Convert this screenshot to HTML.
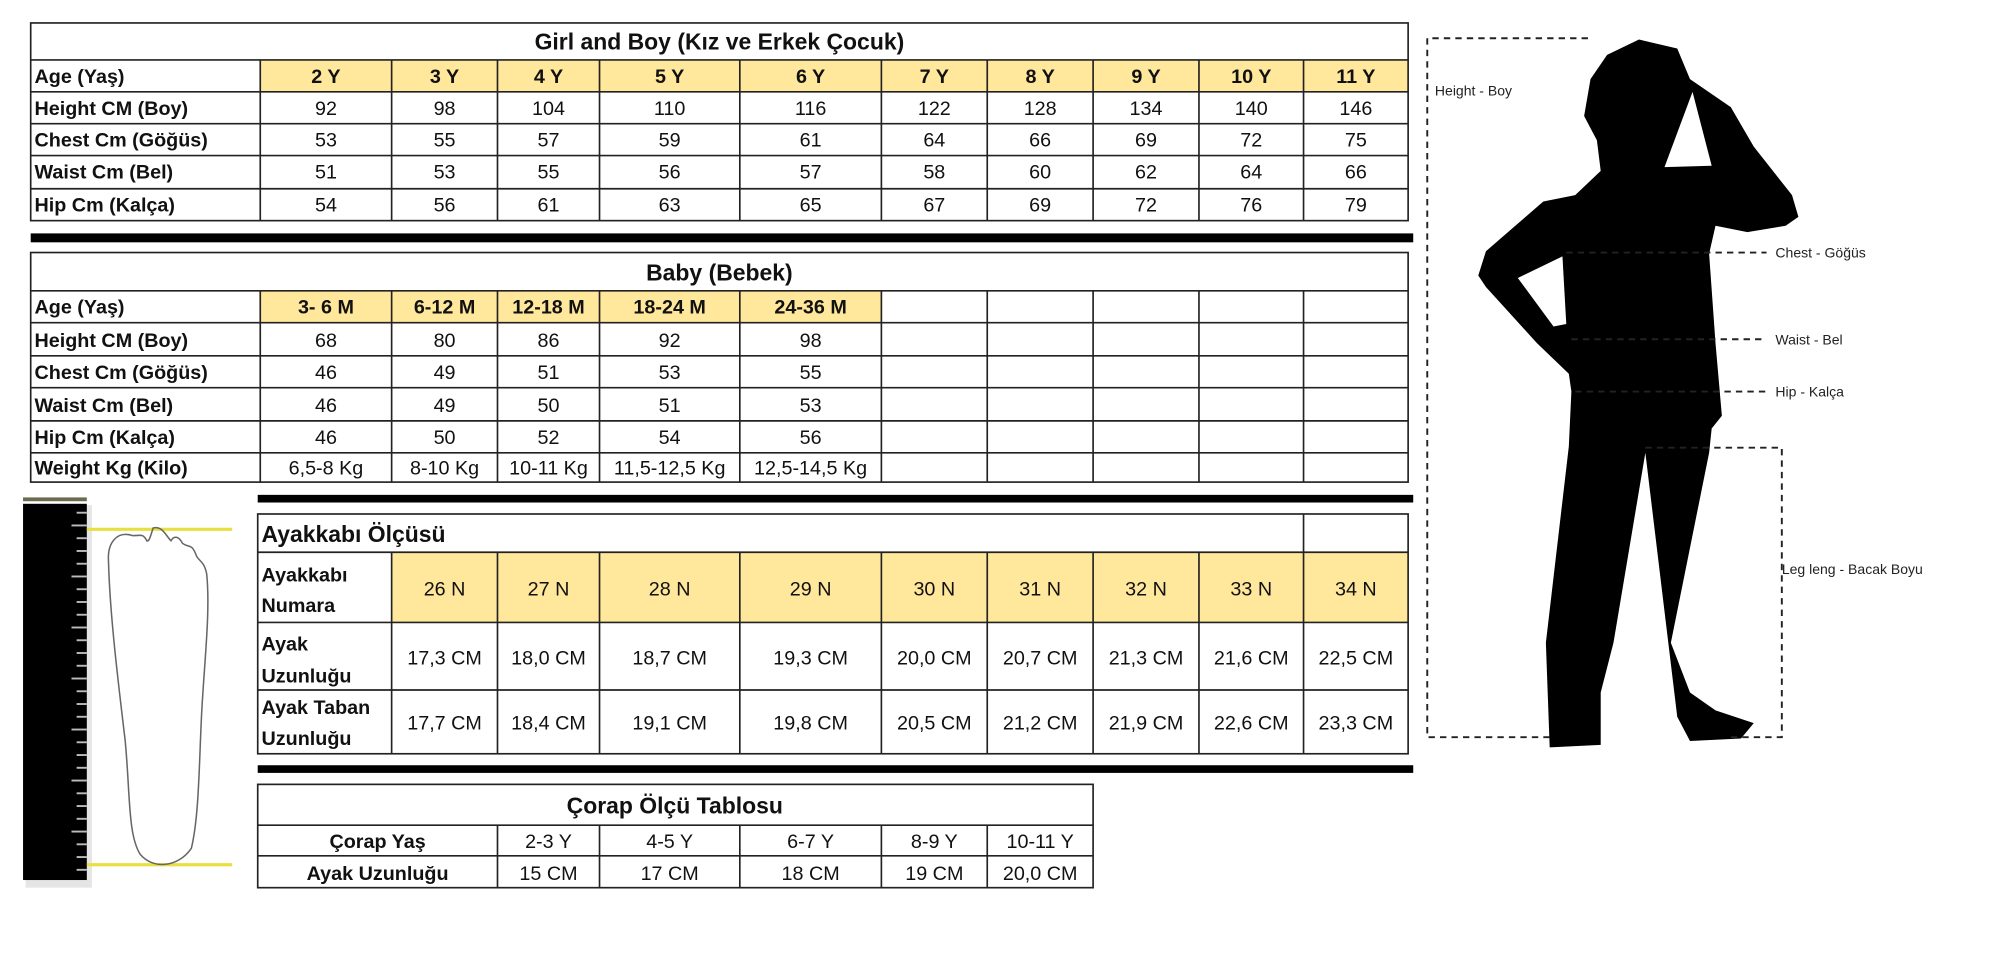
<!DOCTYPE html>
<html><head><meta charset="utf-8"><style>
html,body{margin:0;padding:0;background:#fff;width:2000px;height:954px;overflow:hidden}
svg{display:block}
text{font-family:"Liberation Sans Narrow","Liberation Sans",sans-serif;fill:#111}
.c{text-anchor:middle;font-size:15.5px}
.b{font-weight:bold}
.l{font-size:15.5px;font-weight:bold}
.t{font-size:18px;font-weight:bold;text-anchor:middle}
.g line,.g rect{stroke:#222;stroke-width:1.3;fill:none}
.s{font-size:11px;fill:#222}
</style></head><body>
<svg width="2000" height="954" viewBox="0 0 1568 748" xmlns="http://www.w3.org/2000/svg">
<rect width="1568" height="748" fill="#fff"/>

<!-- TOP TABLE -->
<rect x="204" y="47" width="900" height="25" fill="#FFE79B"/>
<g class="g">
<rect x="24" y="18" width="1080" height="155"/>
<line x1="24" y1="47" x2="1104" y2="47"/><line x1="24" y1="72" x2="1104" y2="72"/><line x1="24" y1="97" x2="1104" y2="97"/><line x1="24" y1="122" x2="1104" y2="122"/><line x1="24" y1="148" x2="1104" y2="148"/>
<line x1="204" y1="47" x2="204" y2="173"/><line x1="307" y1="47" x2="307" y2="173"/><line x1="390" y1="47" x2="390" y2="173"/><line x1="470" y1="47" x2="470" y2="173"/><line x1="580" y1="47" x2="580" y2="173"/><line x1="691" y1="47" x2="691" y2="173"/><line x1="774" y1="47" x2="774" y2="173"/><line x1="857" y1="47" x2="857" y2="173"/><line x1="940" y1="47" x2="940" y2="173"/><line x1="1022" y1="47" x2="1022" y2="173"/>
</g>
<text class="t" x="564" y="39">Girl and Boy (Kız ve Erkek Çocuk)</text>
<text class="l" x="27" y="65">Age (Yaş)</text>
<text class="l" x="27" y="90">Height CM (Boy)</text>
<text class="l" x="27" y="115">Chest Cm (Göğüs)</text>
<text class="l" x="27" y="140">Waist Cm (Bel)</text>
<text class="l" x="27" y="166">Hip Cm (Kalça)</text>
<text class="c b" x="255.5" y="65">2 Y</text><text class="c b" x="348.5" y="65">3 Y</text><text class="c b" x="430" y="65">4 Y</text><text class="c b" x="525" y="65">5 Y</text><text class="c b" x="635.5" y="65">6 Y</text><text class="c b" x="732.5" y="65">7 Y</text><text class="c b" x="815.5" y="65">8 Y</text><text class="c b" x="898.5" y="65">9 Y</text><text class="c b" x="981" y="65">10 Y</text><text class="c b" x="1063" y="65">11 Y</text>
<text class="c" x="255.5" y="90">92</text><text class="c" x="348.5" y="90">98</text><text class="c" x="430" y="90">104</text><text class="c" x="525" y="90">110</text><text class="c" x="635.5" y="90">116</text><text class="c" x="732.5" y="90">122</text><text class="c" x="815.5" y="90">128</text><text class="c" x="898.5" y="90">134</text><text class="c" x="981" y="90">140</text><text class="c" x="1063" y="90">146</text>
<text class="c" x="255.5" y="115">53</text><text class="c" x="348.5" y="115">55</text><text class="c" x="430" y="115">57</text><text class="c" x="525" y="115">59</text><text class="c" x="635.5" y="115">61</text><text class="c" x="732.5" y="115">64</text><text class="c" x="815.5" y="115">66</text><text class="c" x="898.5" y="115">69</text><text class="c" x="981" y="115">72</text><text class="c" x="1063" y="115">75</text>
<text class="c" x="255.5" y="140">51</text><text class="c" x="348.5" y="140">53</text><text class="c" x="430" y="140">55</text><text class="c" x="525" y="140">56</text><text class="c" x="635.5" y="140">57</text><text class="c" x="732.5" y="140">58</text><text class="c" x="815.5" y="140">60</text><text class="c" x="898.5" y="140">62</text><text class="c" x="981" y="140">64</text><text class="c" x="1063" y="140">66</text>
<text class="c" x="255.5" y="166">54</text><text class="c" x="348.5" y="166">56</text><text class="c" x="430" y="166">61</text><text class="c" x="525" y="166">63</text><text class="c" x="635.5" y="166">65</text><text class="c" x="732.5" y="166">67</text><text class="c" x="815.5" y="166">69</text><text class="c" x="898.5" y="166">72</text><text class="c" x="981" y="166">76</text><text class="c" x="1063" y="166">79</text>

<rect x="24" y="183" width="1084" height="7" fill="#000"/>

<!-- BABY TABLE -->
<rect x="204" y="228" width="487" height="25" fill="#FFE79B"/>
<g class="g">
<rect x="24" y="198" width="1080" height="180"/>
<line x1="24" y1="228" x2="1104" y2="228"/><line x1="24" y1="253" x2="1104" y2="253"/><line x1="24" y1="279" x2="1104" y2="279"/><line x1="24" y1="304" x2="1104" y2="304"/><line x1="24" y1="330" x2="1104" y2="330"/><line x1="24" y1="355" x2="1104" y2="355"/>
<line x1="204" y1="228" x2="204" y2="378"/><line x1="307" y1="228" x2="307" y2="378"/><line x1="390" y1="228" x2="390" y2="378"/><line x1="470" y1="228" x2="470" y2="378"/><line x1="580" y1="228" x2="580" y2="378"/><line x1="691" y1="228" x2="691" y2="378"/><line x1="774" y1="228" x2="774" y2="378"/><line x1="857" y1="228" x2="857" y2="378"/><line x1="940" y1="228" x2="940" y2="378"/><line x1="1022" y1="228" x2="1022" y2="378"/>
</g>
<text class="t" x="564" y="220">Baby (Bebek)</text>
<text class="l" x="27" y="246">Age (Yaş)</text>
<text class="l" x="27" y="272">Height CM (Boy)</text>
<text class="l" x="27" y="297">Chest Cm (Göğüs)</text>
<text class="l" x="27" y="323">Waist Cm (Bel)</text>
<text class="l" x="27" y="348">Hip Cm (Kalça)</text>
<text class="l" x="27" y="372">Weight Kg (Kilo)</text>
<text class="c b" x="255.5" y="246">3- 6 M</text><text class="c b" x="348.5" y="246">6-12 M</text><text class="c b" x="430" y="246">12-18 M</text><text class="c b" x="525" y="246">18-24 M</text><text class="c b" x="635.5" y="246">24-36 M</text>
<text class="c" x="255.5" y="272">68</text><text class="c" x="348.5" y="272">80</text><text class="c" x="430" y="272">86</text><text class="c" x="525" y="272">92</text><text class="c" x="635.5" y="272">98</text>
<text class="c" x="255.5" y="297">46</text><text class="c" x="348.5" y="297">49</text><text class="c" x="430" y="297">51</text><text class="c" x="525" y="297">53</text><text class="c" x="635.5" y="297">55</text>
<text class="c" x="255.5" y="323">46</text><text class="c" x="348.5" y="323">49</text><text class="c" x="430" y="323">50</text><text class="c" x="525" y="323">51</text><text class="c" x="635.5" y="323">53</text>
<text class="c" x="255.5" y="348">46</text><text class="c" x="348.5" y="348">50</text><text class="c" x="430" y="348">52</text><text class="c" x="525" y="348">54</text><text class="c" x="635.5" y="348">56</text>
<text class="c" x="255.5" y="372">6,5-8 Kg</text><text class="c" x="348.5" y="372">8-10 Kg</text><text class="c" x="430" y="372">10-11 Kg</text><text class="c" x="525" y="372">11,5-12,5 Kg</text><text class="c" x="635.5" y="372">12,5-14,5 Kg</text>

<rect x="202" y="388" width="906" height="6" fill="#000"/>

<!-- SHOE TABLE -->
<rect x="307" y="433" width="797" height="55" fill="#FFE79B"/>
<g class="g">
<rect x="202" y="403" width="902" height="188"/>
<line x1="202" y1="433" x2="1104" y2="433"/><line x1="202" y1="488" x2="1104" y2="488"/><line x1="202" y1="541" x2="1104" y2="541"/>
<line x1="1022" y1="403" x2="1022" y2="591"/>
<line x1="307" y1="433" x2="307" y2="591"/><line x1="390" y1="433" x2="390" y2="591"/><line x1="470" y1="433" x2="470" y2="591"/><line x1="580" y1="433" x2="580" y2="591"/><line x1="691" y1="433" x2="691" y2="591"/><line x1="774" y1="433" x2="774" y2="591"/><line x1="857" y1="433" x2="857" y2="591"/><line x1="940" y1="433" x2="940" y2="591"/>
</g>
<text x="205" y="425" style="font-size:18px;font-weight:bold">Ayakkabı Ölçüsü</text>
<text class="l" x="205" y="456">Ayakkabı</text><text class="l" x="205" y="480">Numara</text>
<text class="l" x="205" y="510">Ayak</text><text class="l" x="205" y="535">Uzunluğu</text>
<text class="l" x="205" y="560">Ayak Taban</text><text class="l" x="205" y="584">Uzunluğu</text>
<text class="c" x="348.5" y="467">26 N</text><text class="c" x="430" y="467">27 N</text><text class="c" x="525" y="467">28 N</text><text class="c" x="635.5" y="467">29 N</text><text class="c" x="732.5" y="467">30 N</text><text class="c" x="815.5" y="467">31 N</text><text class="c" x="898.5" y="467">32 N</text><text class="c" x="981" y="467">33 N</text><text class="c" x="1063" y="467">34 N</text>
<text class="c" x="348.5" y="521">17,3 CM</text><text class="c" x="430" y="521">18,0 CM</text><text class="c" x="525" y="521">18,7 CM</text><text class="c" x="635.5" y="521">19,3 CM</text><text class="c" x="732.5" y="521">20,0 CM</text><text class="c" x="815.5" y="521">20,7 CM</text><text class="c" x="898.5" y="521">21,3 CM</text><text class="c" x="981" y="521">21,6 CM</text><text class="c" x="1063" y="521">22,5 CM</text>
<text class="c" x="348.5" y="572">17,7 CM</text><text class="c" x="430" y="572">18,4 CM</text><text class="c" x="525" y="572">19,1 CM</text><text class="c" x="635.5" y="572">19,8 CM</text><text class="c" x="732.5" y="572">20,5 CM</text><text class="c" x="815.5" y="572">21,2 CM</text><text class="c" x="898.5" y="572">21,9 CM</text><text class="c" x="981" y="572">22,6 CM</text><text class="c" x="1063" y="572">23,3 CM</text>

<rect x="202" y="600" width="906" height="6" fill="#000"/>

<!-- SOCKS TABLE -->
<g class="g">
<rect x="202" y="615" width="655" height="81"/>
<line x1="202" y1="647" x2="857" y2="647"/><line x1="202" y1="671" x2="857" y2="671"/>
<line x1="390" y1="647" x2="390" y2="696"/><line x1="470" y1="647" x2="470" y2="696"/><line x1="580" y1="647" x2="580" y2="696"/><line x1="691" y1="647" x2="691" y2="696"/><line x1="774" y1="647" x2="774" y2="696"/>
</g>
<text class="t" x="529" y="638">Çorap Ölçü Tablosu</text>
<text class="c b" x="296" y="665">Çorap Yaş</text><text class="c b" x="296" y="690">Ayak Uzunluğu</text>
<text class="c" x="430" y="665">2-3 Y</text><text class="c" x="525" y="665">4-5 Y</text><text class="c" x="635.5" y="665">6-7 Y</text><text class="c" x="732.5" y="665">8-9 Y</text><text class="c" x="815.5" y="665">10-11 Y</text>
<text class="c" x="430" y="690">15 CM</text><text class="c" x="525" y="690">17 CM</text><text class="c" x="635.5" y="690">18 CM</text><text class="c" x="732.5" y="690">19 CM</text><text class="c" x="815.5" y="690">20,0 CM</text>

<!-- RULER + FOOT -->
<rect x="20" y="396" width="52" height="300" fill="#ccc" opacity="0.5"/>
<rect x="18" y="390" width="50" height="3" fill="#6b6b50"/>
<rect x="18" y="395" width="50" height="295" fill="#000"/>
<g stroke="#bbb" stroke-width="1.5">
<line x1="60" y1="402" x2="68" y2="402"/><line x1="56" y1="412" x2="68" y2="412"/><line x1="60" y1="422" x2="68" y2="422"/><line x1="60" y1="432" x2="68" y2="432"/><line x1="60" y1="442" x2="68" y2="442"/><line x1="56" y1="452" x2="68" y2="452"/><line x1="60" y1="462" x2="68" y2="462"/><line x1="60" y1="472" x2="68" y2="472"/><line x1="60" y1="482" x2="68" y2="482"/><line x1="56" y1="492" x2="68" y2="492"/><line x1="60" y1="502" x2="68" y2="502"/><line x1="60" y1="512" x2="68" y2="512"/><line x1="60" y1="522" x2="68" y2="522"/><line x1="56" y1="532" x2="68" y2="532"/><line x1="60" y1="542" x2="68" y2="542"/><line x1="60" y1="552" x2="68" y2="552"/><line x1="60" y1="562" x2="68" y2="562"/><line x1="56" y1="572" x2="68" y2="572"/><line x1="60" y1="582" x2="68" y2="582"/><line x1="60" y1="592" x2="68" y2="592"/><line x1="60" y1="602" x2="68" y2="602"/><line x1="56" y1="612" x2="68" y2="612"/><line x1="60" y1="622" x2="68" y2="622"/><line x1="60" y1="632" x2="68" y2="632"/><line x1="60" y1="642" x2="68" y2="642"/><line x1="56" y1="652" x2="68" y2="652"/><line x1="60" y1="662" x2="68" y2="662"/><line x1="60" y1="672" x2="68" y2="672"/><line x1="60" y1="682" x2="68" y2="682"/>
</g>
<line x1="68" y1="415" x2="182" y2="415" stroke="#e8e040" stroke-width="2.5"/>
<line x1="68" y1="678" x2="182" y2="678" stroke="#e8e040" stroke-width="2.5"/>
<path d="M104,420 C92,416 84,425 85,440 C86,480 92,530 98,580 C102,620 100,655 110,670 C120,682 140,680 150,665 C156,640 156,600 158,560 C160,520 165,480 162,450 C160,440 156,440 154,436 C150,425 148,430 143,426 C140,420 136,420 134,424 C130,420 127,412 120,414 C118,420 117,425 115,424 C112,418 110,420 104,420 Z" fill="none" stroke="#666" stroke-width="1.2"/>

<!-- SILHOUETTE -->
<path d="M1260,43 L1285,31 L1315,38 L1325,62 L1357,84 L1375,115 L1405,153 L1410,170 L1400,177 L1370,182 L1345,177 L1340,199 L1345,269 L1350,326 L1342,336 L1340,355 L1310,504 L1325,543 L1345,557 L1375,567 L1365,579 L1325,581 L1315,562 L1290,355 L1265,504 L1255,543 L1255,584 L1215,586 L1212,504 L1230,350 L1232,307 L1230,293 L1205,269 L1165,225 L1159,216 L1165,197 L1210,158 L1235,153 L1255,134 L1252,110 L1242,91 L1247,62 Z" fill="#000"/>
<path d="M1305,131 L1327,72 L1342,130 Z" fill="#fff"/>
<path d="M1190,218 L1225,201 L1228,254 L1218,256 Z" fill="#fff"/>
<g stroke="#222" stroke-width="1.5" stroke-dasharray="5,4" fill="none">
<polyline points="1245,30 1119,30 1119,578 1215,578"/>
<line x1="1228" y1="198" x2="1385" y2="198"/>
<line x1="1232" y1="266" x2="1385" y2="266"/>
<line x1="1235" y1="307" x2="1385" y2="307"/>
<polyline points="1290,351 1397,351 1397,578 1355,578"/>
</g>
<text class="s" x="1125" y="75">Height - Boy</text>
<text class="s" x="1392" y="202">Chest - Göğüs</text>
<text class="s" x="1392" y="270">Waist - Bel</text>
<text class="s" x="1392" y="311">Hip - Kalça</text>
<text class="s" x="1397" y="450">Leg leng - Bacak Boyu</text>
</svg>
</body></html>
